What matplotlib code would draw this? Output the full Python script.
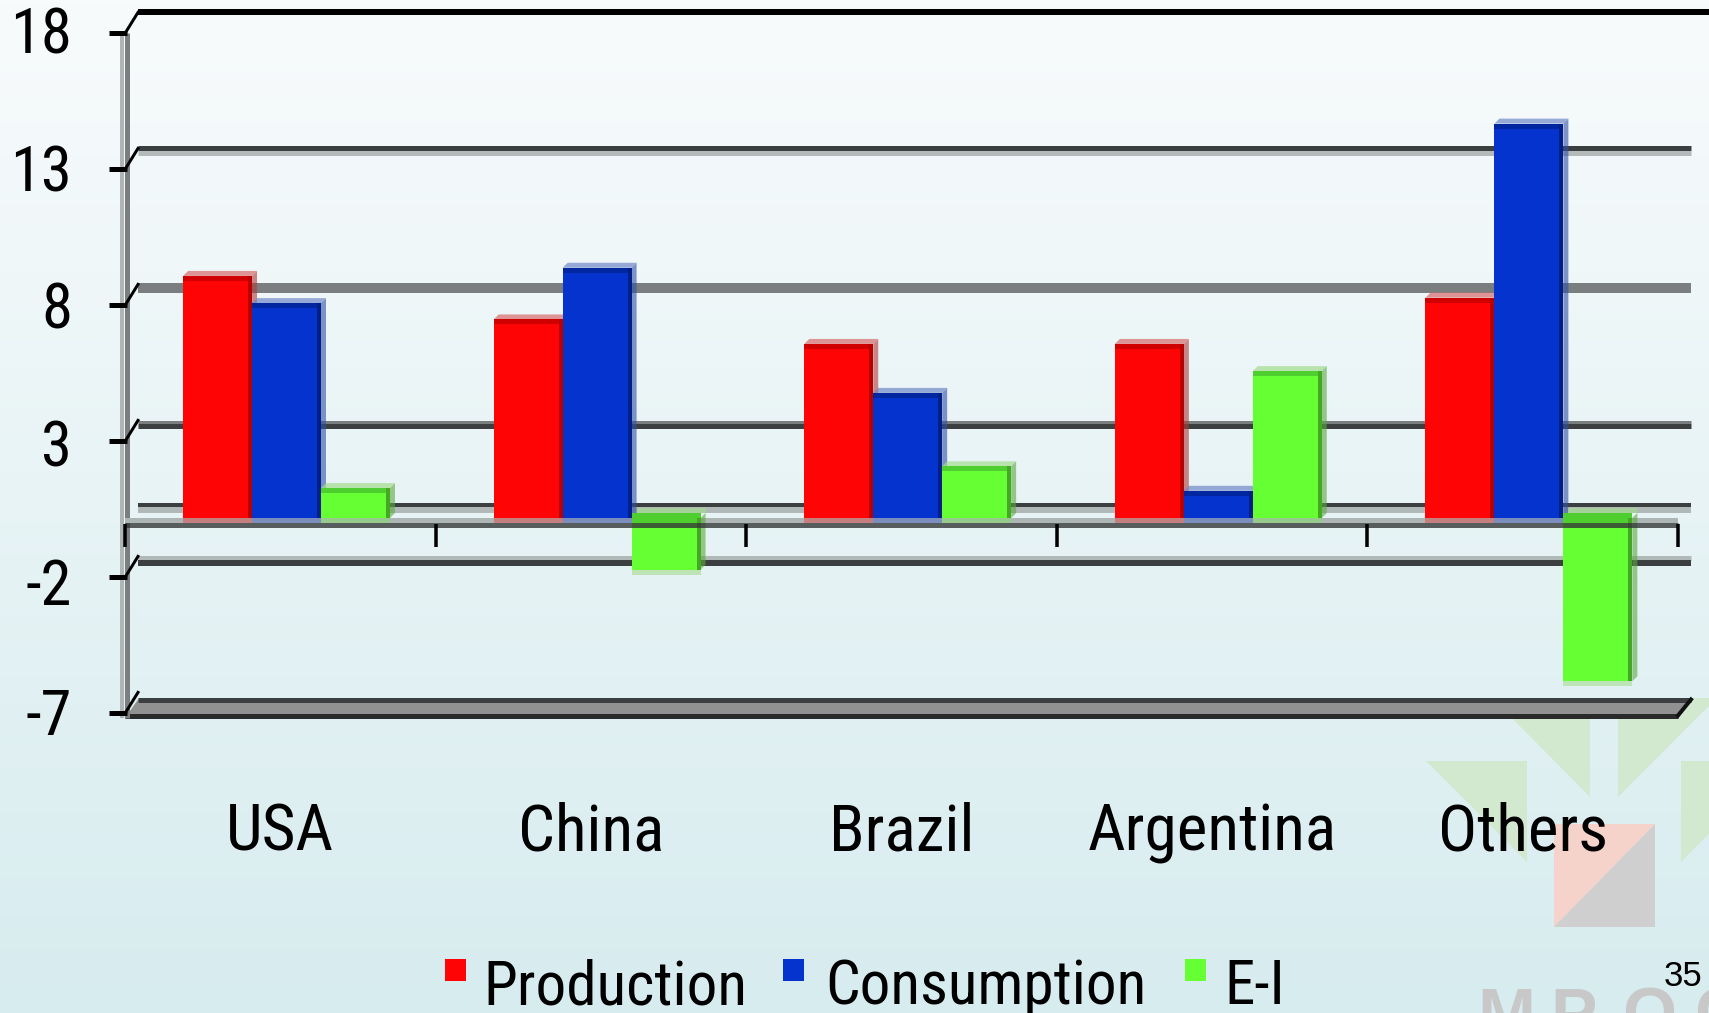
import numpy as np
import matplotlib
matplotlib.use("Agg")
import matplotlib.pyplot as plt
from matplotlib.patches import Rectangle, Polygon
from matplotlib.transforms import blended_transform_factory

# data
categories = ["USA", "China", "Brazil", "Argentina", "Others"]
production = [8.9, 7.3, 6.4, 6.4, 8.1]
consumption = [7.9, 9.2, 4.6, 1.0, 14.5]
e_minus_i = [1.1, -1.9, 1.9, 5.4, -6.0]
series_names = ["Production", "Consumption", "E-I"]
y_ticks = [-7, -2, 3, 8, 13, 18]
y_tick_labels = ["-7", "-2", "3", "8", "13", "18"]

W, H, DPI = 1709, 1013, 100

# face, dark top band, right edge, top face, side face
palette = [
    ("#ff0404", "#d00000", "#b80000", "#d86a6a", "#b03a3a"),
    ("#0433cd", "#0026a0", "#001f88", "#7088c8", "#3050a8"),
    ("#66ff33", "#4fcf2f", "#44a822", "#a4dc8e", "#5aaa40"),
]

NARROW = ["Roboto Condensed", "Liberation Sans", "DejaVu Sans"]
REGULAR = ["Liberation Sans", "DejaVu Sans"]

fig = plt.figure(figsize=(W / DPI, H / DPI), dpi=DPI)

# ---- background gradient + faint logo watermark ----
bg = fig.add_axes([0, 0, 1, 1], zorder=-10)
bg.set_xlim(0, W)
bg.set_ylim(H, 0)
bg.axis("off")
c_top = np.array([248, 251, 252]) / 255
c_bot = np.array([215, 236, 239]) / 255
t = np.linspace(0, 1, 256)[:, None, None]
bg.imshow(c_top * (1 - t) + c_bot * t, extent=[0, W, H, 0], aspect="auto")

wm_green = "#d3e9cf"
for tri in [[(1426, 761), (1527, 761), (1527, 862)],
            [(1492, 698), (1590, 698), (1590, 797)],
            [(1618, 797), (1618, 698), (1717, 698)],
            [(1681, 761), (1782, 761), (1681, 862)]]:
    bg.add_patch(Polygon(tri, closed=True, fc=wm_green, ec="none"))
bg.add_patch(Polygon([(1554, 824), (1655, 824), (1554, 927)], fc="#f5d2ca", ec="none"))
bg.add_patch(Polygon([(1655, 824), (1655, 927), (1554, 927)], fc="#cfcfcf", ec="none"))
for letter, lx in zip("MPOC", [1477, 1550, 1622, 1694]):
    bg.text(lx, 986, letter, fontsize=50, fontweight="bold", color="#c8c8c8",
            va="top", ha="left", family=REGULAR)

# ---- main axes (front plane) ----
ax = fig.add_axes([125 / W, 1 - 713.4 / H, 1553 / W, 680 / H])
ax.set_xlim(0, 5)
ax.set_ylim(-7, 18)
ax.patch.set_visible(False)
for s in ax.spines.values():
    s.set_visible(False)
ax.set_xticks([])
ax.set_yticks([])

PX = 5 / 1553   # data units per pixel, x
PY = 25 / 680   # data units per pixel, y


def hx(p):
    return p * PX


def hy(p):
    return p * PY


def lw(p):
    return p * 72 / DPI


# back wall gridlines: (offset below nominal px, colour, thickness px)
DX, DY = 13, 21
grid_styles = {
    18: [(0, "#000000", 6)],
    13: [(0, "#3c3f3f", 5), (5, "#b4baba", 5)],
    8: [(4, "#7b7e7e", 10)],
    3: [(1.5, "#7b7e7e", 3), (5.5, "#3c3f3f", 5)],
    0: [(3, "#3c3f3f", 4), (8, "#b0b8b8", 6)],
    -2: [(1.5, "#b0b8b8", 5), (7, "#3c3f3f", 6)],
}
for v, parts in grid_styles.items():
    x_end = 5 + hx(1709 - 1678) if v == 18 else 5 + hx(DX)
    for off, col, th in parts:
        yy = v + hy(DY) - hy(off)
        ax.plot([hx(DX), x_end], [yy, yy], color=col, lw=lw(th),
                solid_capstyle="butt", clip_on=False, zorder=1)

# slab at the bottom (-7)
ax.add_patch(Polygon([(0, -7 - hy(4.6)), (5, -7 - hy(4.6)),
                      (5 + hx(DX), -7 + hy(13.9)), (hx(DX), -7 + hy(13.9))],
                     closed=True, fc="#919191", ec="none", clip_on=False, zorder=1))
ax.plot([hx(DX), 5 + hx(DX)], [-7 + hy(13.9)] * 2, color="#3c3f3f", lw=lw(5),
        solid_capstyle="butt", clip_on=False, zorder=1.1)
ax.plot([0, 5], [-7 - hy(2.1)] * 2, color="#2a2a2a", lw=lw(5),
        solid_capstyle="butt", clip_on=False, zorder=1.1)
ax.plot([5, 5 + hx(DX)], [-7 - hy(2.1), -7 + hy(13.9)], color="#111111", lw=lw(4),
        clip_on=False, zorder=1.1)

# left axis (two-tone) with diagonal joins to the back wall
ax.plot([-hx(3), -hx(3)], [-7 - hy(5), 18], color="#b0b4b4", lw=lw(4),
        solid_capstyle="butt", clip_on=False, zorder=1.2)
ax.plot([hx(1.5), hx(1.5)], [-7 - hy(5), 18], color="#7b7e7e", lw=lw(5),
        solid_capstyle="butt", clip_on=False, zorder=1.2)
label_drop = [5, 11, 8, 6.5, 5, 3]   # px the slide's labels sit below their tick
for v, lab, drop in zip(y_ticks, y_tick_labels, label_drop):
    ax.plot([-hx(16), hx(2)], [v, v], color="black", lw=lw(5),
            solid_capstyle="butt", clip_on=False, zorder=1.3)
    ax.plot([hx(0), hx(DX)], [v, v + hy(DY)], color="black", lw=lw(3),
            clip_on=False, zorder=1.3)
    ax.text(-hx(53), v - hy(drop), lab, ha="right", va="center", fontsize=45,
            family=NARROW, color="black")

# floor band at zero
ax.add_patch(Rectangle((0, 0), 5, hy(5), fc="#adb5b5", ec="none", zorder=2))

# ---- 3D-looking bars ----
w = 0.222
base = hy(5)
all_series = [production, consumption, e_minus_i]
for i in range(len(categories)):
    for j, vals in enumerate(all_series):
        face, dark, edge, topc, side = palette[j]
        v = vals[i]
        x0 = i + 0.52 - 1.5 * w + j * w
        x1 = x0 + w
        if v >= 0:
            ax.add_patch(Rectangle((x0, 0), w, hy(5), fc=face, alpha=0.3, ec="none", zorder=3))
            ax.add_patch(Polygon([(x1, base), (x1, base + v), (x1 + hx(5), base + v + hy(5)),
                                  (x1 + hx(5), base + hy(5))], fc=side, alpha=0.6, ec="none", zorder=3))
            ax.add_patch(Polygon([(x0, base + v), (x1, base + v), (x1 + hx(5), base + v + hy(5)),
                                  (x0 + hx(5), base + v + hy(5))], fc=topc, alpha=0.7, ec="none", zorder=3))
            ax.add_patch(Rectangle((x0, base), w, v, fc=face, ec="none", zorder=3))
            ax.add_patch(Rectangle((x0, base + v - hy(5)), w, hy(5), fc=dark, ec="none", zorder=3))
            ax.add_patch(Rectangle((x1 - hx(4), base), hx(4), v, fc=edge, ec="none", zorder=3))
        else:
            ax.add_patch(Polygon([(x1, base + v), (x1, base), (x1 + hx(5), base + hy(5)),
                                  (x1 + hx(5), base + v + hy(5))], fc=side, alpha=0.6, ec="none", zorder=3))
            ax.add_patch(Polygon([(x0 + hx(5), base + hy(5)), (x1 + hx(5), base + hy(5)),
                                  (x1 + hx(5), base + hy(10)), (x0 + hx(5), base + hy(10))],
                                 fc=topc, alpha=0.7, ec="none", zorder=3))
            ax.add_patch(Rectangle((x0, base + v), w, -v, fc=face, ec="none", zorder=3))
            ax.add_patch(Rectangle((x0, base - hy(5)), w, hy(10), fc=dark, ec="none", zorder=3))
            ax.add_patch(Rectangle((x1 - hx(4), base + v), hx(4), -v, fc=edge, ec="none", zorder=3))
            ax.add_patch(Rectangle((x0, base + v - hy(5)), w, hy(5), fc=topc, alpha=0.6,
                                   ec="none", zorder=3))

# front category axis at zero with boundary ticks
ax.plot([0, 5], [-hy(2.5)] * 2, color="#333636", lw=lw(5), alpha=0.8,
        solid_capstyle="butt", clip_on=False, zorder=5)
ax.vlines(range(len(categories) + 1), -hy(24), -hy(1), color="black", lw=lw(3.5),
          clip_on=False, zorder=5)

# category labels
lab_tr = blended_transform_factory(ax.transData, fig.transFigure)
for i, cat in enumerate(categories):
    ax.text(i + 0.5, 1 - 850 / H, cat, transform=lab_tr, ha="center", va="baseline",
            fontsize=47, family=NARROW, color="black")

# legend
legend_boxes = [445, 783, 1185]
legend_text_x = [483, 825, 1224]
for j, name in enumerate(series_names):
    fig.patches.append(Rectangle((legend_boxes[j] / W, 1 - 981 / H), 21 / W, 22 / H,
                                 transform=fig.transFigure, fc=palette[j][0], ec="none"))
    fig.text(legend_text_x[j] / W, 1 - 1004 / H, name, fontsize=44, family=NARROW,
             va="baseline", ha="left", color="black")

# slide number
fig.text(1664 / W, 1 - 986 / H, "35", fontsize=25, family=REGULAR, va="baseline", ha="left")

fig.savefig("out.png", dpi=DPI)
